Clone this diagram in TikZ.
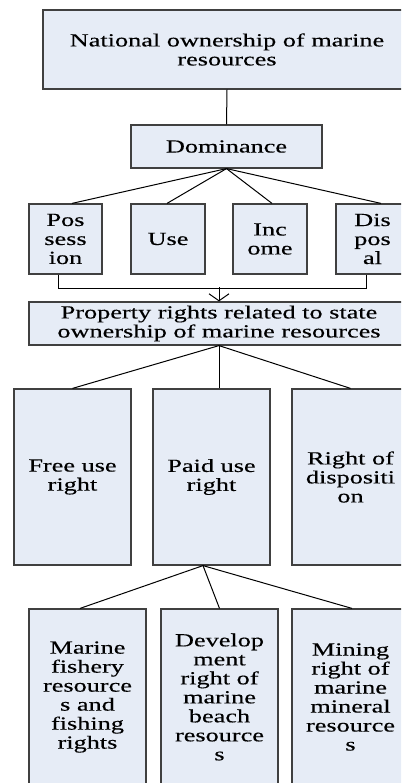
\documentclass[tikz,border=0pt]{standalone}
\usepackage{fontspec}
\setmainfont{Liberation Serif}[FakeStretch=1.42,FakeBold=0.3]
\usetikzlibrary{calc,arrows.meta}
\definecolor{boxfill}{HTML}{E6ECF6}
\definecolor{boxline}{HTML}{404040}
\tikzset{
  box/.style={draw=boxline, line width=1.2pt, fill=boxfill, rectangle, inner sep=0pt,
    align=center, font=\fontsize{18.5}{19}\selectfont},
  conn/.style={draw=black, line width=1pt},
}
\begin{document}
\begin{tikzpicture}[x=1pt,y=-1pt]
\useasboundingbox (0,0) rectangle (401,783);
\clip (0,0) rectangle (401,783);
\node[box, minimum width=368pt, minimum height=79pt] (top) at (227,49.5) {National ownership of marine\\resources};
\node[box, minimum width=191pt, minimum height=43pt] (dom) at (226.5,146.5) {Dominance};
\node[box, minimum width=73pt, minimum height=70pt] (pos) at (65.5,239) {Pos\\sess\\ion};
\node[box, minimum width=74pt, minimum height=70pt] (use) at (168,239) {Use};
\node[box, minimum width=74pt, minimum height=70pt] (inc) at (270,239) {Inc\\ome};
\node[box, minimum width=73pt, minimum height=70pt] (dis) at (372.5,239) {Dis\\pos\\al};
\node[box, minimum width=380pt, minimum height=43pt] (prop) at (219,323.5) {Property rights related to state\\ownership of marine resources};
\node[box, minimum width=117pt, minimum height=176pt] (free) at (72.5,477) {Free use\\right};
\node[box, minimum width=117pt, minimum height=176pt] (paid) at (211.5,477) {Paid use\\right};
\node[box, minimum width=117pt, minimum height=176pt] (rod) at (350.5,477) {Right of\\dispositi\\on};
\node[box, minimum width=117pt, minimum height=176pt] (mar) at (87.5,697) {Marine\\fishery\\resource\\s and\\fishing\\rights};
\node[box, minimum width=117pt, minimum height=176pt] (dev) at (219.5,697) {Develop\\ment\\right of\\marine\\beach\\resource\\s};
\node[box, minimum width=117pt, minimum height=176pt] (min) at (350.5,697) {Mining\\right of\\marine\\mineral\\resource\\s};
% connectors
\draw[conn] (top.south) -- (dom.north);
\draw[conn] (dom.south) -- ($(pos.north)+(6.5,0)$);
\draw[conn] (dom.south) -- ($(use.north)+(-1,0)$);
\draw[conn] (dom.south) -- ($(inc.north)+(2,0)$);
\draw[conn] (dom.south) -- ($(dis.north)+(8.5,0)$);
\coordinate (jl) at ($(pos.south)+(-7.5,14)$);
\coordinate (jm) at ($(prop.north)+(0,-14)$);
\draw[conn] ($(pos.south)+(-7.5,0)$) -- (jl) -| ($(dis.south)+(-6.5,0)$);
\draw[conn, -{Straight Barb[length=7pt,width=20pt,line width=1pt]}] (jm) -- (prop.north);
\draw[conn] (prop.south) -- (free.north);
\draw[conn] (prop.south) -- ($(paid.north)+(7.5,0)$);
\draw[conn] (prop.south) -- (rod.north);
\coordinate (pa) at ($(paid.south)+(-8.5,0)$);
\draw[conn] (pa) -- ($(mar.north)+(-7.5,0)$);
\draw[conn] (pa) -- (dev.north);
\draw[conn] (pa) -- ($(min.north)+(1.5,0)$);
\end{tikzpicture}
\end{document}
